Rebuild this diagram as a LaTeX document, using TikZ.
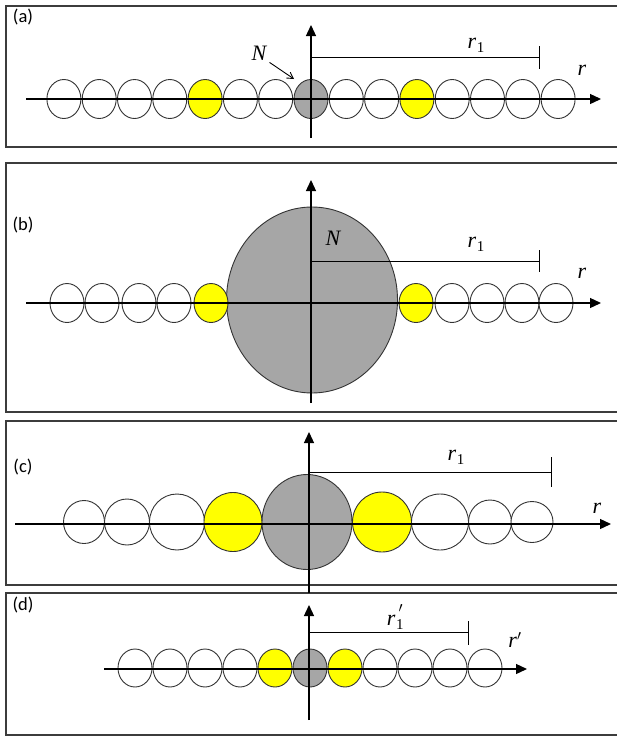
\documentclass[tikz,border=0pt]{standalone}
\usepackage{fontspec}
\setmainfont{Liberation Serif}
\newfontfamily\lblfont{Carlito}
\usetikzlibrary{shapes.geometric,arrows.meta}
\definecolor{ballgray}{RGB}{166,166,166}
\definecolor{ballyellow}{RGB}{255,255,0}
\definecolor{framegray}{RGB}{60,60,60}
\tikzset{
  ball/.style={ellipse, draw=black!80, line width=0.9pt, fill=white, inner sep=0pt, minimum width=34pt, minimum height=39pt},
  yball/.style={ball, fill=ballyellow},
  gball/.style={ball, fill=ballgray},
  axisline/.style={line width=1.3pt, -{Triangle[length=11pt,width=10pt]}},
  barline/.style={line width=1pt},
  frameline/.style={line width=1.2pt, draw=framegray},
  panellabel/.style={font=\lblfont\fontsize{18.5}{20}\selectfont, inner sep=0pt},
  varlabel/.style={font=\fontsize{22}{24}\selectfont\itshape, inner sep=0pt},
}
\newcommand{\rsub}[1]{r\kern0.5pt\raisebox{-4pt}{\upshape\fontsize{15}{15}\selectfont #1}}
\begin{document}
\begin{tikzpicture}[x=1pt,y=-1pt]
\useasboundingbox (0,0) rectangle (617,736);
% frames (open on the right, cut by the page)
\draw[frameline] (620,6) -- (6,6) -- (6,147) -- (620,147);
\draw[frameline] (620,163) -- (6,163) -- (6,412) -- (620,412);
\draw[frameline] (620,421) -- (6,421) -- (6,585) -- (620,585);
\draw[frameline] (620,593) -- (6,593) -- (6,735) -- (620,735);

% ---------------- panel (a)
\node[panellabel] (la) at (23,17) {(a)};
\foreach \k in {-7,...,7}{
  \pgfmathsetmacro{\xx}{311+35.3*\k}
  \ifnum\k=0 \node[gball] (a\k) at (\xx,99) {};
  \else\ifnum\k=-3 \node[yball] (a\k) at (\xx,99) {};
  \else\ifnum\k=3 \node[yball] (a\k) at (\xx,99) {};
  \else \node[ball] (a\k) at (\xx,99) {};
  \fi\fi\fi
}
\coordinate (aL) at (26,99); \coordinate (aR) at (601,99);
\coordinate (aB) at (311,138); \coordinate (aT) at (311,25);
\draw[axisline] (aL) -- (aR);
\draw[axisline] (aB) -- (aT);
\coordinate (ab0) at (311,57); \coordinate (ab1) at (539,57);
\coordinate (at0) at (539,46); \coordinate (at1) at (539,69);
\draw[barline] (ab0) -- (ab1);
\draw[barline] (at0) -- (at1);
\node[varlabel] (ar1) at (476,45) {\rsub{1}};
\node[varlabel] (ar) at (582,70) {r};
\node[varlabel] (aN) at (259,53) {N};
\coordinate (aNe) at (294,79);
\draw[line width=0.9pt, -{Straight Barb[length=6pt,width=7pt]}] (aN.south east) ++(3,2) -- (aNe);

% ---------------- panel (b)
\node[panellabel] (lb) at (23,225) {(b)};
\node[gball, minimum width=171pt, minimum height=186pt] (bN) at (312,300) {};
\foreach \xx/\nm in {67/b1,102/b2,139/b3,174/b4,452/b7,487/b8,522/b9,556/b10}{
  \node[ball] (\nm) at (\xx,303) {};
}
\node[yball] (b5) at (211,303) {};
\node[yball] (b6) at (416,303) {};
\coordinate (bL) at (26,303); \coordinate (bR) at (601,303);
\coordinate (bB) at (311,403); \coordinate (bT) at (311,180);
\draw[axisline] (bL) -- (bR);
\draw[axisline] (bB) -- (bT);
\coordinate (bb0) at (311,261); \coordinate (bb1) at (539,261);
\coordinate (bt0) at (539,250); \coordinate (bt1) at (539,272);
\draw[barline] (bb0) -- (bb1);
\draw[barline] (bt0) -- (bt1);
\node[varlabel] (br1) at (476,244) {\rsub{1}};
\node[varlabel] (br) at (582,273) {r};
\node[varlabel] (bNl) at (333,238) {N};

% ---------------- panel (c)
\node[panellabel] (lc) at (23,467) {(c)};
\node[ball, minimum width=41pt, minimum height=43pt] (c1) at (84,522) {};
\node[ball, minimum width=45pt, minimum height=46pt] (c2) at (127,522) {};
\node[ball, minimum width=55pt, minimum height=56pt] (c3) at (177,522) {};
\node[yball, minimum width=58pt, minimum height=59pt] (c4) at (233,522) {};
\node[gball, minimum width=90pt, minimum height=95pt] (c5) at (307,522) {};
\node[yball, minimum width=59pt, minimum height=60pt] (c6) at (382,522) {};
\node[ball, minimum width=57pt, minimum height=56pt] (c7) at (440,522) {};
\node[ball, minimum width=43pt, minimum height=44pt] (c8) at (490,522) {};
\node[ball, minimum width=42pt, minimum height=41pt] (c9) at (532,522) {};
\coordinate (cL) at (15,524); \coordinate (cR) at (611,524);
\coordinate (cB) at (309,593); \coordinate (cT) at (309,432);
\draw[axisline] (cL) -- (cR);
\draw[axisline] (cB) -- (cT);
\coordinate (cb0) at (309,472); \coordinate (cb1) at (551,472);
\coordinate (ct0) at (551,457); \coordinate (ct1) at (551,487);
\draw[barline] (cb0) -- (cb1);
\draw[barline] (ct0) -- (ct1);
\node[varlabel] (cr1) at (456,457) {\rsub{1}};
\node[varlabel] (cr) at (597,508) {r};

% ---------------- panel (d)
\node[panellabel] (ld) at (23,605) {(d)};
\foreach \k in {-5,...,5}{
  \pgfmathsetmacro{\xx}{310+35*\k}
  \ifnum\k=0 \node[gball, minimum height=38pt] (d\k) at (\xx,668) {};
  \else\ifnum\k=-1 \node[yball, minimum height=38pt] (d\k) at (\xx,668) {};
  \else\ifnum\k=1 \node[yball, minimum height=38pt] (d\k) at (\xx,668) {};
  \else \node[ball, minimum height=38pt] (d\k) at (\xx,668) {};
  \fi\fi\fi
}
\coordinate (dL) at (104,669); \coordinate (dR) at (527,669);
\coordinate (dB) at (309,720); \coordinate (dT) at (309,605);
\draw[axisline] (dL) -- (dR);
\draw[axisline] (dB) -- (dT);
\coordinate (db0) at (309,632); \coordinate (db1) at (468,632);
\coordinate (dt0) at (468,621); \coordinate (dt1) at (468,645);
\draw[barline] (db0) -- (db1);
\draw[barline] (dt0) -- (dt1);
\node[varlabel] (dr1) at (395,617) {\rsub{1}\kern-5pt\raisebox{5pt}{$'$}};
\node[varlabel] (dr) at (515,640) {r$'$};
\end{tikzpicture}
\end{document}
